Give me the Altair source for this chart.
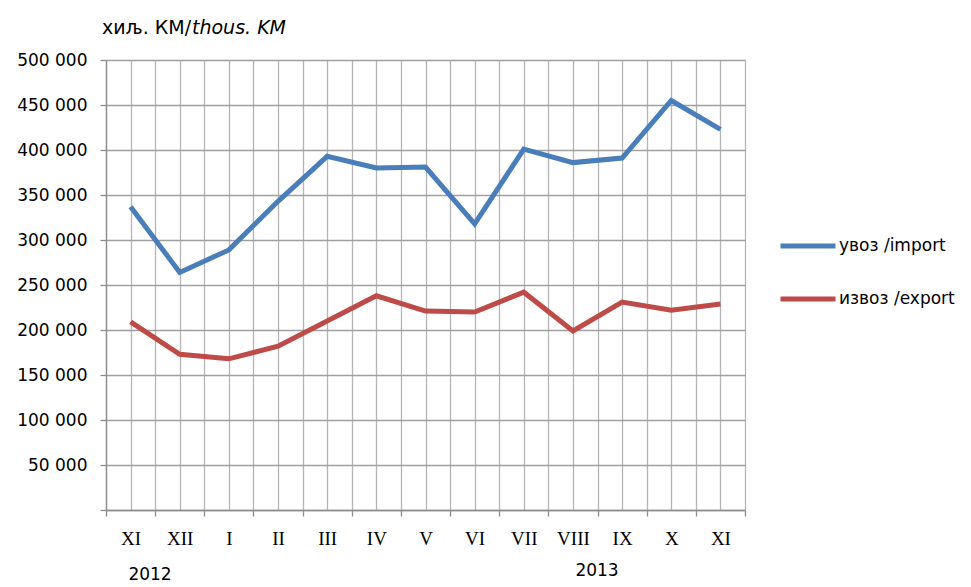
import json
import altair as alt
import pandas as pd

months = ["XI", "XII", "I", "II", "III", "IV", "V", "VI", "VII", "VIII", "IX", "X", "XI"]
import_vals = [337000, 264000, 289000, 343000, 393000, 380000, 381000, 318000, 401000, 386000, 391000, 455000, 423000]
export_vals = [209000, 173000, 168000, 182000, 210000, 238000, 221000, 220000, 242000, 199000, 231000, 222000, 229000]
series_names = ["увоз /import", "извоз /export"]
series_colors = ["#4A7EBB", "#BE4B48"]
y_ticks = list(range(0, 500001, 50000))
years = ["2012", "2013"]

rows = []
for i, m in enumerate(months):
    rows.append({"idx": i, "month": m, "series": series_names[0], "value": import_vals[i]})
    rows.append({"idx": i, "month": m, "series": series_names[1], "value": export_vals[i]})
df = pd.DataFrame(rows)

n = len(months)
x_values = [k / 2 for k in range(-1, 2 * n)]
label_expr = "datum.value % 1 == 0 ? " + json.dumps(months).replace('"', "'") + "[datum.value] : ''"

lines = alt.Chart(df).mark_line(strokeWidth=5, strokeCap="butt", strokeJoin="miter").encode(
    x=alt.X(
        "idx:Q",
        scale=alt.Scale(domain=[-0.5, n - 0.5], nice=False, zero=False),
        axis=alt.Axis(
            values=x_values,
            labelExpr=label_expr,
            title=None,
            grid=True,
            gridColor="#b5b5b5",
            gridWidth=1.3,
            domainColor="#8c8c8c",
            domainWidth=1.3,
            tickColor="#8c8c8c",
            tickSize=6,
            tickWidth=1.3,
            tickOpacity={"condition": {"test": "datum.value % 1 != 0", "value": 1}, "value": 0},
            labelFont="Liberation Serif",
            labelFontSize=19,
            labelColor="#000000",
            labelPadding=13,
            labelOverlap=False,
            labelBound=False,
            labelFlush=False,
        ),
    ),
    y=alt.Y(
        "value:Q",
        scale=alt.Scale(domain=[0, 500000], nice=False),
        axis=alt.Axis(
            values=y_ticks,
            labelExpr="datum.value == 0 ? '' : replace(format(datum.value, ','), ',', ' ')",
            title=None,
            grid=True,
            gridColor="#a0a0a0",
            gridWidth=1.3,
            domainColor="#8c8c8c",
            domainWidth=1.3,
            tickColor="#8c8c8c",
            tickSize=6,
            tickWidth=1.3,
            labelFont="DejaVu Sans",
            labelFontSize=17,
            labelColor="#000000",
            labelPadding=13,
        ),
    ),
    color=alt.Color(
        "series:N",
        scale=alt.Scale(domain=series_names, range=series_colors),
        sort=series_names,
        legend=alt.Legend(
            title=None,
            orient="none",
            legendX=672,
            legendY=156,
            symbolType="stroke",
            symbolSize=3025,
            symbolStrokeWidth=5,
            labelFont="DejaVu Sans",
            labelFontSize=17,
            labelColor="#000000",
            labelOffset=1,
            rowPadding=13,
            padding=0,
        ),
    ),
    detail="series:N",
)

title_df = pd.DataFrame({"t": ["хиљ. КМ/"]})
title1 = alt.Chart(title_df).mark_text(
    align="left", baseline="middle", font="DejaVu Sans", fontSize=19, color="#000000"
).encode(text="t:N", x=alt.value(-4), y=alt.value(-32))
title2_df = pd.DataFrame({"t": ["thous. KM"]})
title2 = alt.Chart(title2_df).mark_text(
    align="left", baseline="middle", font="DejaVu Sans", fontSize=19, fontStyle="italic", color="#000000"
).encode(text="t:N", x=alt.value(86), y=alt.value(-32))

y2012 = alt.Chart(pd.DataFrame({"t": [years[0]]})).mark_text(
    align="center", baseline="middle", font="DejaVu Sans", fontSize=17, color="#000000"
).encode(text="t:N", x=alt.value(44), y=alt.value(515))
y2013 = alt.Chart(pd.DataFrame({"t": [years[1]]})).mark_text(
    align="center", baseline="middle", font="DejaVu Sans", fontSize=17, color="#000000"
).encode(text="t:N", x=alt.value(491), y=alt.value(511))

chart = alt.layer(lines, title1, title2, y2012, y2013).properties(
    width=639,
    height=450,
    autosize=alt.AutoSizeParams(type="none"),
    padding={"left": 98, "top": 52, "right": 214, "bottom": 76},
).configure_view(stroke=None).configure(background="white")

chart.save("out.html", embed_options={"renderer": "svg", "actions": False})
